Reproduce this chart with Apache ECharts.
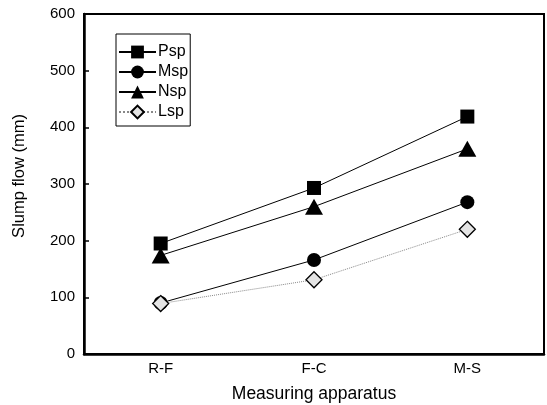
<!DOCTYPE html>
<html>
<head>
<meta charset="utf-8">
<script src="https://cdn.jsdelivr.net/npm/echarts@6/dist/echarts.min.js"></script>
<style>html,body{margin:0;padding:0;background:#fff}#c{width:547px;height:405px}</style>
</head>
<body>
<div id="c"></div>
<script>
const categories = ['R-F', 'F-C', 'M-S'];
const psp = [195, 293, 419];
const msp = [90, 166, 268];
const nsp = [174, 260, 362];
const lsp = [89, 131, 220];
const seriesNames = ['Psp', 'Msp', 'Nsp', 'Lsp'];
const yTicks = [0, 600, 100];

const font = 'Liberation Sans, Arial, Helvetica, sans-serif';
const chart = echarts.init(document.getElementById('c'), null, {renderer: 'canvas'});

function mk(name, data, symbol, size, color, lineColor, lineType, fill) {
  return {
    name: name, type: 'line', data: data,
    symbol: symbol, symbolSize: size,
    lineStyle: {color: lineColor, width: 1, type: lineType},
    itemStyle: {color: fill, borderColor: color, borderWidth: fill === '#000' ? 0 : 1.3},
    emphasis: {disabled: true},
    animation: false
  };
}

chart.setOption({
  animation: false,
  backgroundColor: '#fff',
  grid: {left: 84, right: 3, top: 14, bottom: 51, show: true, borderColor: '#000', borderWidth: 2, backgroundColor: 'transparent', containLabel: false, outerBoundsMode: 'none'},
  legend: {
    orient: 'vertical', left: 116, top: 34,
    data: seriesNames,
    itemWidth: 37, itemHeight: 16, itemGap: 4,
    padding: [10, 2, 6, 2],
    borderColor: '#000', borderWidth: 1,
    textStyle: {fontFamily: font, fontSize: 16, lineHeight: 16, color: '#000', padding: [0, 0, 0, -3]},
    selectedMode: false
  },
  xAxis: {
    type: 'category', data: categories, boundaryGap: true,
    name: 'Measuring apparatus', nameLocation: 'middle', nameGap: 31,
    nameTextStyle: {fontFamily: font, fontSize: 17.5, color: '#000'},
    axisLine: {lineStyle: {color: '#000', width: 2.5}},
    axisTick: {inside: true, length: 6, alignWithLabel: true, lineStyle: {color: '#000', width: 1.5}},
    axisLabel: {fontFamily: font, fontSize: 15, color: '#000', margin: 7},
    splitLine: {show: false}
  },
  yAxis: {
    type: 'value', min: yTicks[0], max: yTicks[1], interval: yTicks[2],
    name: 'Slump flow (mm)', nameLocation: 'middle', nameGap: 56,
    nameTextStyle: {fontFamily: font, fontSize: 16.5, color: '#000', padding: [0, 0, 0, 16]},
    axisLine: {show: true, lineStyle: {color: '#000', width: 2.5}},
    axisTick: {show: true, inside: true, length: 5, lineStyle: {color: '#000', width: 1.5}},
    axisLabel: {fontFamily: font, fontSize: 15, color: '#000', margin: 9},
    splitLine: {show: false}
  },
  series: [
    mk('Psp', psp, 'rect', 14, '#000', '#000', 'solid', '#000'),
    mk('Msp', msp, 'circle', 14, '#000', '#000', 'solid', '#000'),
    mk('Nsp', nsp, 'triangle', [18, 16], '#000', '#000', 'solid', '#000'),
    mk('Lsp', lsp, 'diamond', 16, '#000', '#888', 'dotted', '#e4e4e4')
  ]
});
</script>
</body>
</html>
